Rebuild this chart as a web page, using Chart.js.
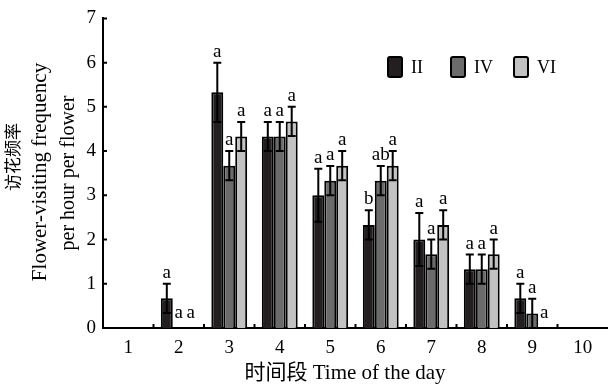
<!DOCTYPE html>
<html>
<head>
<meta charset="utf-8">
<script src="https://cdn.jsdelivr.net/npm/chart.js@4/dist/chart.umd.min.js"></script>
<style>
  body { margin: 0; background: #fff; }
</style>
</head>
<body>
<canvas id="chart" width="608" height="390"></canvas>
<script>
// data
const periods = ["1", "2", "3", "4", "5", "6", "7", "8", "9", "10"];
const seriesNames = ["II", "IV", "VI"];
const valuesII = [0, 0.67, 5.33, 4.33, 3.0, 2.33, 2.0, 1.33, 0.67, 0];
const valuesIV = [0, 0, 3.67, 4.33, 3.33, 3.33, 1.67, 1.33, 0.33, 0];
const valuesVI = [0, 0, 4.33, 4.67, 3.67, 3.67, 2.33, 1.67, 0, 0];
const errorsII = [0, 0.33, 0.67, 0.33, 0.6, 0.33, 0.6, 0.33, 0.33, 0];
const errorsIV = [0, 0, 0.33, 0.33, 0.33, 0.33, 0.33, 0.33, 0.33, 0];
const errorsVI = [0, 0, 0.33, 0.33, 0.33, 0.33, 0.33, 0.33, 0, 0];
const lettersII = ["", "a", "a", "a", "a", "b", "a", "a", "a", ""];
const lettersIV = ["", "a", "a", "a", "a", "ab", "a", "a", "a", ""];
const lettersVI = ["", "a", "a", "a", "a", "a", "a", "a", "a", ""];
const yTicks = [0, 1, 2, 3, 4, 5, 6, 7];

const colors = ["#231f20", "#6b6b6b", "#c2c2c2"];
const errors = [errorsII, errorsIV, errorsVI];
const letters = [lettersII, lettersIV, lettersVI];
const serif = "'Liberation Serif', 'Noto Sans CJK SC', serif";

function rotatedText(ctx, text, x, y, font) {
  ctx.save();
  ctx.font = font;
  ctx.translate(x, y);
  ctx.rotate(-Math.PI / 2);
  ctx.fillText(text, 0, 0);
  ctx.restore();
}

// error bars, letters, inner ticks, legend and axis titles
const extras = {
  id: "extras",
  afterDatasetsDraw(chart) {
    const ctx = chart.ctx;
    const y = chart.scales.y;
    const area = chart.chartArea;
    ctx.save();
    ctx.strokeStyle = "#000";
    ctx.fillStyle = "#000";
    ctx.lineWidth = 2;

    chart.data.datasets.forEach((ds, di) => {
      const meta = chart.getDatasetMeta(di);
      meta.data.forEach((bar, i) => {
        const v = ds.data[i], e = errors[di][i];
        const top = y.getPixelForValue(v + e);
        if (e > 0) {
          const bot = y.getPixelForValue(v - e);
          ctx.beginPath();
          ctx.moveTo(bar.x, top); ctx.lineTo(bar.x, bot);
          ctx.moveTo(bar.x - 4, top); ctx.lineTo(bar.x + 4, top);
          ctx.moveTo(bar.x - 4, bot); ctx.lineTo(bar.x + 4, bot);
          ctx.stroke();
        }
        const t = letters[di][i];
        if (t) {
          ctx.font = "19px " + serif;
          ctx.textAlign = "center";
          ctx.textBaseline = "alphabetic";
          ctx.fillText(t, bar.x, top - (v + e > 0 ? 6 : 10));
        }
      });
    });

    // inner ticks
    ctx.beginPath();
    yTicks.forEach(t => {
      const py = y.getPixelForValue(t);
      ctx.moveTo(area.left, py); ctx.lineTo(area.left + 4, py);
    });
    const step = (area.right - area.left) / periods.length;
    for (let i = 1; i < periods.length; i++) {
      const px = area.left + step * i;
      ctx.moveTo(px, area.bottom); ctx.lineTo(px, area.bottom - 4);
    }
    ctx.stroke();

    // legend
    const legendX = [387, 450, 513];
    seriesNames.forEach((name, i) => {
      ctx.fillStyle = colors[i];
      ctx.beginPath();
      ctx.roundRect(legendX[i] + 1, 57, 14, 20, 2);
      ctx.fill();
      ctx.stroke();
      ctx.fillStyle = "#000";
      ctx.font = "18px " + serif;
      ctx.textAlign = "left";
      ctx.textBaseline = "middle";
      ctx.fillText(name, legendX[i] + 24, 68);
    });

    // axis titles
    ctx.textAlign = "center";
    ctx.textBaseline = "middle";
    ctx.font = "21px " + serif;
    ctx.fillText("时间段 Time of the day", 345, 373);
    rotatedText(ctx, "访花频率", 15, 157, "17px " + serif);
    rotatedText(ctx, "Flower-visiting frequency", 40, 172, "21px " + serif);
    rotatedText(ctx, "per hour per flower", 69, 173, "20px " + serif);

    ctx.restore();
  }
};

new Chart(document.getElementById("chart"), {
  type: "bar",
  data: {
    labels: periods,
    datasets: [
      { label: seriesNames[0], data: valuesII, backgroundColor: colors[0] },
      { label: seriesNames[1], data: valuesIV, backgroundColor: colors[1] },
      { label: seriesNames[2], data: valuesVI, backgroundColor: colors[2] },
    ],
  },
  options: {
    responsive: false,
    animation: false,
    layout: { padding: { top: 13, right: 0, left: 0, bottom: 0 } },
    datasets: {
      bar: {
        borderColor: "#000",
        borderWidth: 2,
        categoryPercentage: 0.71,
        barPercentage: 1,
      },
    },
    plugins: {
      legend: { display: false },
      tooltip: { enabled: false },
    },
    scales: {
      x: {
        grid: { display: false, drawTicks: false },
        border: { color: "#000", width: 2 },
        ticks: { color: "#000", padding: 9, font: { family: serif, size: 19 } },
        afterFit(scale) { scale.height = 62; },
      },
      y: {
        min: 0,
        max: 7,
        grid: { display: false, drawTicks: false },
        border: { color: "#000", width: 2 },
        ticks: { stepSize: 1, color: "#000", padding: 7, font: { family: serif, size: 19 } },
        afterFit(scale) { scale.width = 103; },
      },
    },
  },
  plugins: [extras],
});
</script>
</body>
</html>
